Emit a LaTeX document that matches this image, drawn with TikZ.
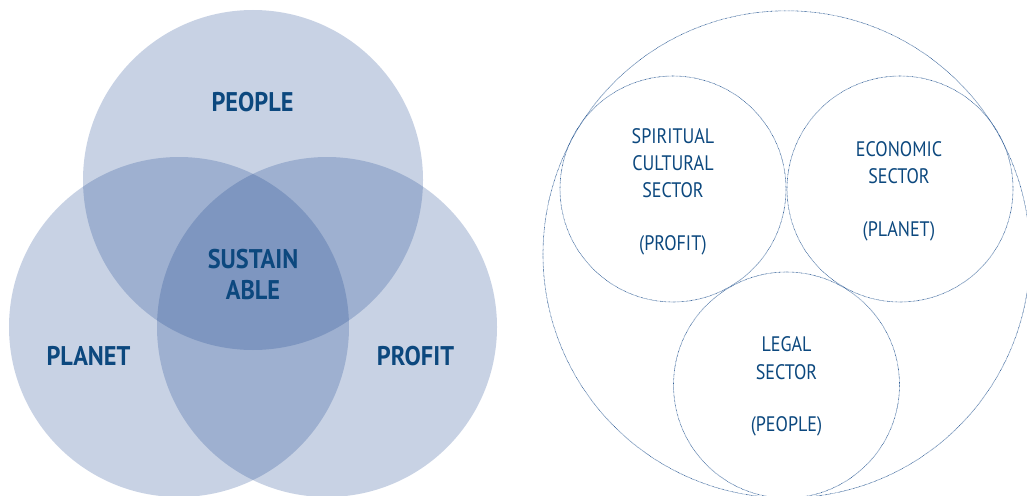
\documentclass[tikz,border=0pt]{standalone}
\usepackage{fontspec}
\setmainfont{PT Sans}[FakeStretch=0.86]
\newfontfamily\vennfont{PT Sans}[FakeStretch=0.9]
\definecolor{vennblue}{RGB}{22,65,141}
\definecolor{txtblue}{RGB}{12,72,126}
\definecolor{dotblue}{RGB}{28,78,140}
\tikzset{
  venn/.style={fill=vennblue, fill opacity=0.236, draw=none},
  ring/.style={draw=dotblue, line width=0.6pt, dash pattern=on 0.6pt off 0.7pt},
  bigtxt/.style={text=txtblue, font=\vennfont\fontsize{27}{31}\selectfont\bfseries, anchor=base, inner sep=0pt},
  smalltxt/.style={text=txtblue, font=\fontsize{21}{27}\selectfont, anchor=base, inner sep=0pt}
}
\begin{document}
\begin{tikzpicture}[x=1pt,y=-1pt]
\useasboundingbox (0,0) rectangle (1027,495);
\clip (0,0) rectangle (1027,495);
% Venn
\fill[venn] (253,180) circle (170);
\fill[venn] (179,327) circle (170);
\fill[venn] (327,327) circle (170);
\node[bigtxt] (people) at (252.5,111) {PEOPLE};
\node[bigtxt] (sus1) at (253,268) {SUSTAIN};
\node[bigtxt] (sus2) at (253,299) {ABLE};
\node[bigtxt] (planet) at (88.5,365) {PLANET};
\node[bigtxt] (profit) at (415.5,365) {PROFIT};
% Sector circles
\draw[ring] (786.5,254.3) circle (243.5);
\draw[ring] (673,189) circle (113);
\draw[ring] (900,189) circle (113);
\draw[ring] (786.5,385) circle (113);
\node[smalltxt] (s1) at (673,143) {SPIRITUAL};
\node[smalltxt] (s2) at (673,170) {CULTURAL};
\node[smalltxt] (s3) at (673,197) {SECTOR};
\node[smalltxt] (s4) at (673,250) {(PROFIT)};
\node[smalltxt] (e1) at (899,156.7) {ECONOMIC};
\node[smalltxt] (e2) at (899,183.3) {SECTOR};
\node[smalltxt] (e3) at (899,236.7) {(PLANET)};
\node[smalltxt] (l1) at (786.5,351.7) {LEGAL};
\node[smalltxt] (l2) at (786.5,379) {SECTOR};
\node[smalltxt] (l3) at (786.5,431.7) {(PEOPLE)};
\end{tikzpicture}
\end{document}
